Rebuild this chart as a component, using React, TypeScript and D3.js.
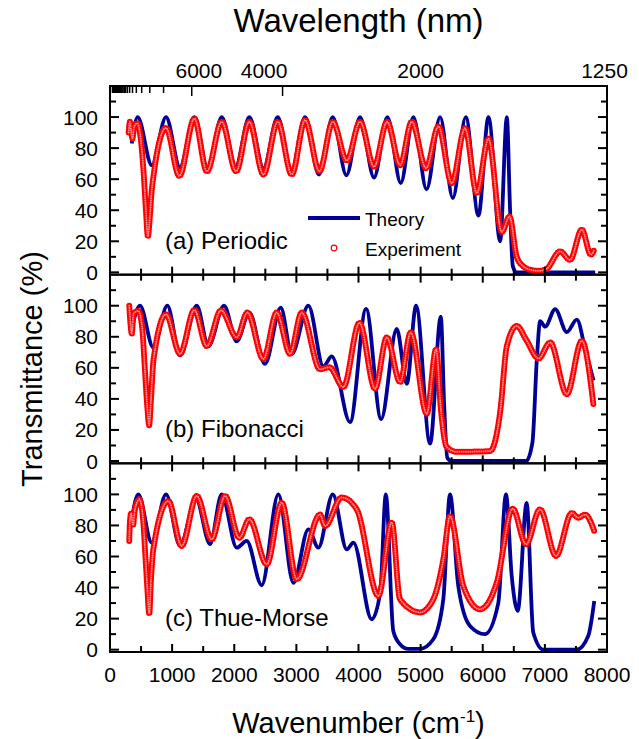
import * as d3 from "d3"

// Transmittance spectra: [wavenumber (cm^-1), transmittance (%)]
const periodicTheory: [number, number][] = [
  [350, 83], [445, 100], [673, 69], [902, 100], [1125, 67.7], [1358, 100], [1575, 66], [1798, 100],
  [2022, 68], [2243, 100], [2470, 67], [2700, 100], [2920, 65], [3140, 100], [3363, 63], [3586, 100],
  [3805, 62.5], [4025, 100], [4250, 61], [4465, 100], [4680, 57.5], [4884, 100], [5095, 53.5],
  [5314, 100], [5518, 47.8], [5727, 100], [5931, 36.6], [6092, 100], [6280, 20], [6388, 100],
  [6440, 40], [6484, 4], [6540, 0], [7810, 0],
]

const periodicExperiment: [number, number][] = [
  [300, 90], [320, 97], [340, 91], [360, 86], [390, 94], [440, 96], [500, 84], [540, 65], [575, 42],
  [610, 23], [640, 35], [670, 52], [700, 62], [902, 93], [1116, 62], [1358, 99], [1560, 65],
  [1798, 97], [2030, 65], [2243, 97], [2469, 63], [2700, 97], [2925, 63], [3140, 98], [3370, 65],
  [3586, 97], [3811, 72], [4025, 97], [4251, 68], [4460, 97], [4670, 69], [4857, 97], [5088, 67],
  [5286, 94], [5501, 57.4], [5715, 92.8], [5904, 51], [6092, 86], [6306, 26], [6430, 36],
  [6547, 10], [6650, 4], [6762, 1.7], [6900, 1], [7020, 2], [7245, 13.5], [7406, 8], [7594, 27.5],
  [7740, 11.4], [7800, 15],
]

const fibonacciTheory: [number, number][] = [
  [350, 85], [483, 100], [697, 73], [923, 100], [1127, 68], [1396, 100], [1583, 74], [1835, 100],
  [2040, 77], [2243, 95.6], [2495, 62.5], [2748, 98.8], [2925, 69], [3193, 100], [3435, 61],
  [3570, 67.4], [3864, 25], [4122, 98], [4364, 27], [4616, 85], [4777, 49.7], [4927, 100],
  [5152, 11.2], [5325, 93], [5380, 35], [5430, 2], [5500, 0], [6700, 0], [6800, 12], [6870, 65],
  [6924, 90], [7005, 86.5], [7166, 97.8], [7353, 83], [7514, 91], [7650, 72], [7783, 51.8],
]

const fibonacciExperiment: [number, number][] = [
  [310, 100], [330, 88], [350, 82], [380, 95], [456, 96.7], [520, 85], [560, 60], [600, 35],
  [630, 23], [660, 40], [700, 65], [902, 94.5], [1127, 69], [1358, 97.3], [1557, 74], [1787, 97],
  [2040, 79.6], [2211, 95.6], [2469, 65.7], [2684, 95.6], [2898, 69], [3086, 95.6], [3381, 59],
  [3531, 60.4], [3757, 47.6], [4015, 89], [4267, 46.5], [4455, 79.6], [4670, 50.8], [4841, 82.8],
  [5099, 30.4], [5249, 72], [5330, 31.5], [5420, 9], [5583, 5.9], [5800, 6], [6119, 6.4],
  [6280, 31.5], [6388, 74], [6549, 87], [6700, 78], [6898, 66], [7085, 76.4], [7353, 43],
  [7594, 77.4], [7783, 35.8],
]

const thueMorseTheory: [number, number][] = [
  [350, 84], [456, 100], [671, 69], [902, 100], [1127, 66.8], [1385, 97], [1610, 68], [1798, 100],
  [2040, 65.7], [2200, 70], [2442, 41.5], [2710, 100], [2952, 43], [3193, 77.5], [3354, 65.7],
  [3586, 100], [3811, 64.6], [3918, 69], [4212, 19.6], [4350, 37], [4440, 100], [4560, 12],
  [4668, 3.5], [4800, 0.5], [4990, 0.5], [5204, 6.7], [5365, 32.5], [5473, 100], [5606, 41],
  [5795, 15.3], [6036, 10], [6250, 30], [6374, 100], [6466, 47.5], [6563, 25], [6707, 94.6],
  [6813, 11], [6974, 0], [7512, 0], [7699, 9], [7795, 31.4],
]

const thueMorseExperiment: [number, number][] = [
  [310, 70], [320, 82], [340, 88], [370, 80], [400, 90], [472, 96.8], [530, 85], [570, 60],
  [600, 40], [632, 23], [660, 45], [697, 64.6], [939, 95.7], [1154, 66.8], [1396, 99], [1637, 71],
  [1852, 99], [2082, 72], [2243, 84], [2523, 55], [2764, 94.7], [3005, 45.3], [3381, 87],
  [3461, 79.6], [3729, 98], [3971, 90.4], [4320, 34.6], [4535, 82], [4668, 32.5], [4990, 24],
  [5204, 32.5], [5365, 58], [5473, 86], [5687, 41], [5956, 26], [6224, 43], [6482, 90.8],
  [6696, 67.8], [6921, 90.4], [7179, 60.3], [7432, 88], [7538, 85], [7646, 87], [7795, 76.4],
]

const panelLabels = ["(a) Periodic", "(b) Fibonacci", "(c) Thue-Morse"]
const yTickLabels = [0, 20, 40, 60, 80, 100]
const xTickLabels = [0, 1000, 2000, 3000, 4000, 5000, 6000, 7000, 8000]
const wavelengthLabels = [6000, 4000, 2000, 1250]
// where the wavelength labels sit on the wavenumber axis in the figure (cm^-1)
const wavelengthLabelAt = [1430, 2480, 5000, 7960]
// top axis tick marks (nm)
const wavelengthTicks = d3.range(1, 61).map((n) => 4000 * n - 400)

const panels = [
  { label: panelLabels[0], theory: periodicTheory, experiment: periodicExperiment },
  { label: panelLabels[1], theory: fibonacciTheory, experiment: fibonacciExperiment },
  { label: panelLabels[2], theory: thueMorseTheory, experiment: thueMorseExperiment },
]

const W = 639
const H = 739
const left = 110
const right = 607
const top = 86
const bottom = 652
const panelH = (bottom - top) / 3
const font = "'Liberation Sans', Arial, sans-serif"
const blue = "#000096"
const red = "#ff0000"

const x = d3.scaleLinear().domain([0, 8000]).range([left, right])

export default function App() {
  return (
    <svg
      width={W}
      height={H}
      style={{ position: "absolute", left: 0, top: 0, background: "#fff" }}
      fontFamily={font}
    >
      {panels.map((p, i) => {
        const y0 = top + i * panelH
        const y = d3.scaleLinear().domain([-1.5, 120]).range([y0 + panelH, y0])
        const line = d3
          .line<[number, number]>()
          .x((d) => x(d[0]))
          .y((d) => y(d[1]))
          .curve(d3.curveMonotoneX)
        const xTicks = d3.range(0, 8001, 500)
        const yTicks = d3.range(0, 111, 10)
        const expPath = line(p.experiment) ?? ""
        return (
          <g key={i}>
            <path d={line(p.theory) ?? ""} fill="none" stroke={blue} strokeWidth={3.8} strokeLinejoin="round" />
            {/* hollow circle markers, densely packed */}
            <path d={expPath} fill="none" stroke={red} strokeWidth={6} strokeDasharray="0 2.2" strokeLinecap="round" />
            <path
              d={expPath}
              fill="none"
              stroke="#ff8a8a"
              strokeWidth={2}
              strokeDasharray="0 2.2"
              strokeLinecap="round"
            />
            {/* frame */}
            <rect x={left} y={y0} width={right - left} height={panelH} fill="none" stroke="#000" strokeWidth={2} />
            {/* y ticks */}
            {yTicks.map((t) => {
              const len = t % 20 === 0 ? 9 : 6
              return (
                <g key={t}>
                  <line x1={left} x2={left + len} y1={y(t)} y2={y(t)} stroke="#000" strokeWidth={2} />
                  <line x1={right} x2={right - len} y1={y(t)} y2={y(t)} stroke="#000" strokeWidth={2} />
                </g>
              )
            })}
            {yTickLabels.map((t) => (
              <text key={t} x={left - 12} y={y(t) + 7.5} textAnchor="end" fontSize={21}>
                {t}
              </text>
            ))}
            {/* x ticks */}
            {xTicks.map((t) => {
              const len = t % 1000 === 0 ? 8 : 6
              return (
                <g key={t}>
                  <line x1={x(t)} x2={x(t)} y1={y0 + panelH} y2={y0 + panelH - len} stroke="#000" strokeWidth={2} />
                  {i > 0 && <line x1={x(t)} x2={x(t)} y1={y0} y2={y0 + len} stroke="#000" strokeWidth={2} />}
                </g>
              )
            })}
            <text x={165} y={y0 + panelH - 26} fontSize={24}>
              {p.label}
            </text>
          </g>
        )
      })}

      {/* top wavelength axis */}
      {wavelengthTicks.map((l, j) => (
        <line
          key={l}
          x1={x(1e7 / l)}
          x2={x(1e7 / l)}
          y1={top}
          y2={top + (j < 2 ? 10 : 7)}
          stroke="#000"
          strokeWidth={1.5}
        />
      ))}
      {wavelengthLabels.map((l, j) => (
        <text key={l} x={x(wavelengthLabelAt[j])} y={78} textAnchor="middle" fontSize={21}>
          {l}
        </text>
      ))}
      <text x={(left + right) / 2} y={32} textAnchor="middle" fontSize={33}>
        Wavelength (nm)
      </text>

      {/* bottom axis labels */}
      {xTickLabels.map((t) => (
        <text key={t} x={x(t)} y={682} textAnchor="middle" fontSize={21}>
          {t}
        </text>
      ))}
      <text x={(left + right) / 2} y={733} textAnchor="middle" fontSize={29}>
        Wavenumber (cm
        <tspan dy={-11} fontSize={17}>
          -1
        </tspan>
        <tspan dy={11}>)</tspan>
      </text>
      <text transform={`translate(42, ${(top + bottom) / 2}) rotate(-90)`} textAnchor="middle" fontSize={29}>
        Transmittance (%)
      </text>

      {/* legend */}
      <line x1={308} x2={360} y1={218} y2={218} stroke={blue} strokeWidth={3.8} />
      <text x={365} y={226} fontSize={19}>
        Theory
      </text>
      <circle cx={334} cy={248} r={2.8} fill="#fff" stroke={red} strokeWidth={1.2} />
      <text x={365} y={256} fontSize={19}>
        Experiment
      </text>
    </svg>
  )
}
